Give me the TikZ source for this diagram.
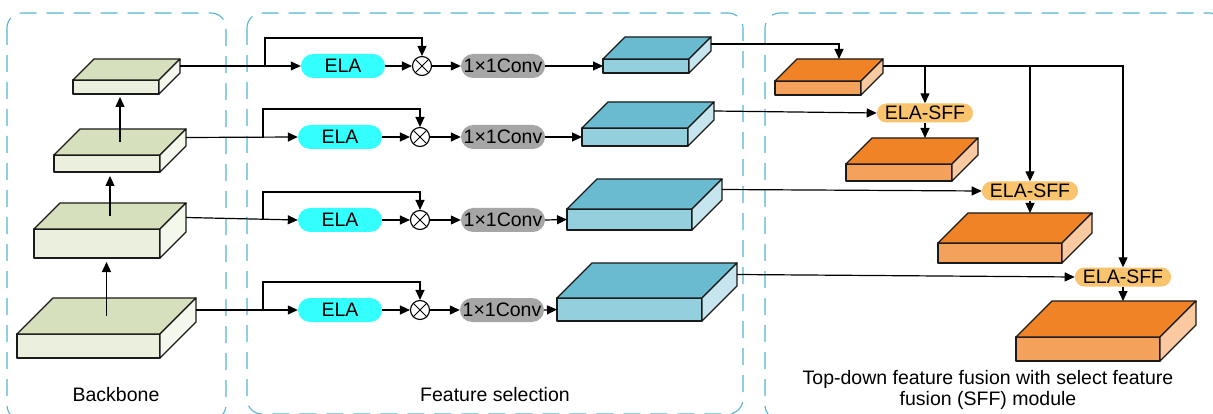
\documentclass[tikz,border=0pt]{standalone}
\usepackage{fontspec}
\setmainfont{Liberation Sans}
\usetikzlibrary{arrows.meta,calc}

\definecolor{gtop}{HTML}{D6E0BD}
\definecolor{gfront}{HTML}{EAF0DD}
\definecolor{gside}{HTML}{F4F7EC}
\definecolor{btop}{HTML}{6ABBD0}
\definecolor{bfront}{HTML}{94CFDD}
\definecolor{bside}{HTML}{C6E5EE}
\definecolor{otop}{HTML}{F08325}
\definecolor{ofront}{HTML}{F4A15C}
\definecolor{oside}{HTML}{FAC9A0}
\definecolor{elacol}{HTML}{33FFFF}
\definecolor{convcol}{HTML}{A6A6A6}
\definecolor{sffcol}{HTML}{FAC46E}
\definecolor{regioncol}{HTML}{55B5D2}
\definecolor{edgecol}{HTML}{1A1A1A}

\tikzset{
  region/.style={draw=regioncol, line width=1.1pt, dash pattern=on 17pt off 10pt, rounded corners=15pt},
  blockface/.style={draw=edgecol, line width=1.3pt, inner sep=0pt, outer sep=0pt, line join=round},
  blockedge/.style={draw=edgecol, line width=1.3pt, line join=round},
  conn/.style={line width=1.2pt, draw=black},
  arr/.style={conn, -{Triangle[length=10pt,width=9pt]}},
  elabox/.style={fill=elacol, rounded corners=12pt, minimum width=84pt, minimum height=24pt, inner sep=0pt},
  convbox/.style={fill=convcol, rounded corners=12pt, minimum width=84pt, minimum height=24pt, inner sep=0pt},
  sffbox/.style={fill=sffcol, rounded corners=9.5pt, minimum height=19pt, inner xsep=8pt, inner ysep=0pt},
  mult/.style={circle, draw=black, line width=1.1pt, minimum size=19pt, inner sep=0pt, fill=white,
    path picture={\draw[line width=1pt] (path picture bounding box.north west) -- (path picture bounding box.south east)
      (path picture bounding box.north east) -- (path picture bounding box.south west);}},
  lbl/.style={align=center, inner sep=0pt},
}

% feature map drawn as a box: name, x, y (front top-left), width, height, depth, colour prefix
\newcommand{\cuboid}[7]{%
  \node[blockface, fill=#7front, minimum width=#4pt, minimum height=#5pt, anchor=north west] (#1) at (#2,#3) {};
  \filldraw[blockedge, fill=#7top] (#1.north west) -- ++(#6,-#6) -- ++(#4,0) -- (#1.north east) -- cycle;
  \filldraw[blockedge, fill=#7side] (#1.north east) -- ++(#6,-#6) -- ++(0,#5) -- (#1.south east) -- cycle;
  \coordinate (#1-out) at ($(#1.east)+(#6,-#6)$);
  \coordinate (#1-back) at ($(#1.north)+(#6,-#6)$);
  \coordinate (#1-top) at ($(#1.north)+(#6/2,-#6/2)$);
}

\begin{document}
\begin{tikzpicture}[x=1pt, y=-1pt, font=\fontsize{19.5}{21}\selectfont]
\clip (0,0) rectangle (1213,414);
\fill[white] (0,0) rectangle (1213,414);

% dashed regions
\draw[region] (7,13) rectangle (226,420);
\draw[region] (247,13) rectangle (743,414);
\draw[region] (765,13) rectangle (1224,420);

% backbone
\cuboid{G1}{73}{80}{86}{14}{21}{g}
\cuboid{G2}{54}{155}{106}{17}{26}{g}
\cuboid{G3}{34}{229}{126}{29}{26}{g}
\cuboid{G4}{17}{334}{143}{24}{36}{g}
\draw[arr, shorten >=3pt] (G2-top) -- (G2-top |- G1.south);
\draw[arr, shorten >=4pt] (G3-top) -- (G3-top |- G2.south);
\draw[arr, shorten >=4pt] (G4-top) -- (G4-top |- G3.south);

% feature selection rows
\node[elabox] (e1) at (343,66) {ELA};
\node[elabox] (e2) at (340,137) {ELA};
\node[elabox] (e3) at (340,220) {ELA};
\node[elabox] (e4) at (340,310) {ELA};
\node[mult] (m1) at (422,66) {};
\node[mult] (m2) at (420,137) {};
\node[mult] (m3) at (420,220) {};
\node[mult] (m4) at (420,310) {};
\node[convbox] (c1) at (503,66) {1×1Conv};
\node[convbox] (c2) at (503,137) {1×1Conv};
\node[convbox] (c3) at (503,220) {1×1Conv};
\node[convbox] (c4) at (502,310) {1×1Conv};

\cuboid{B1}{603}{59}{86}{14}{22}{b}
\cuboid{B2}{582}{128}{106}{18}{26}{b}
\cuboid{B3}{567}{209}{125}{21}{30}{b}
\cuboid{B4}{557}{298}{145}{23}{35}{b}

\foreach \i/\bx in {1/265,2/263,3/263,4/263}{
  \draw[arr] (G\i-out) -- (e\i.west);
  \draw[arr] (\bx,0 |- e\i.west) -- ++(0,-28) -| (m\i.north);
  \draw[arr] (e\i.east) -- (m\i.west);
  \draw[arr] (m\i.east) -- (c\i.west);
  \draw[arr] (c\i.east) -- (B\i.west);
}

% top-down fusion
\cuboid{O1}{775}{81}{86}{14}{22}{o}
\node[sffbox] (s1) at (925,113) {ELA-SFF};
\node[sffbox] (s2) at (1030,191) {ELA-SFF};
\node[sffbox] (s3) at (1123,277) {ELA-SFF};
\cuboid{O2}{846}{164}{106}{17}{26}{o}
\cuboid{O3}{938}{243}{124}{20}{30}{o}
\cuboid{O4}{1016}{337}{144}{24}{36}{o}

\draw[arr] (B1-out) -| ($(O1-back)+(-1,0)$);
\draw[arr] (O1-out) -| (s3.north);
\draw[arr] (s1.north |- O1-out) -- (s1.north);
\draw[arr] (s2.north |- O1-out) -- (s2.north);
\draw[arr] (B2-out) -- (s1.west);
\draw[arr] (B3-out) -- (s2.west);
\draw[arr] (B4-out) -- (s3.west);
\draw[arr] (s1.south) -- (s1.south |- O2-back);
\draw[arr] (s2.south) -- (s2.south |- O3-back);
\draw[arr] (s3.south) -- (s3.south |- O4-back);

% captions
\node[lbl] (t1) at (116,395) {Backbone};
\node[lbl] (t2) at (495,395) {Feature selection};
\node[lbl] (t3) at (988,390) {Top-down feature fusion with select feature\\fusion (SFF) module};
\end{tikzpicture}
\end{document}
